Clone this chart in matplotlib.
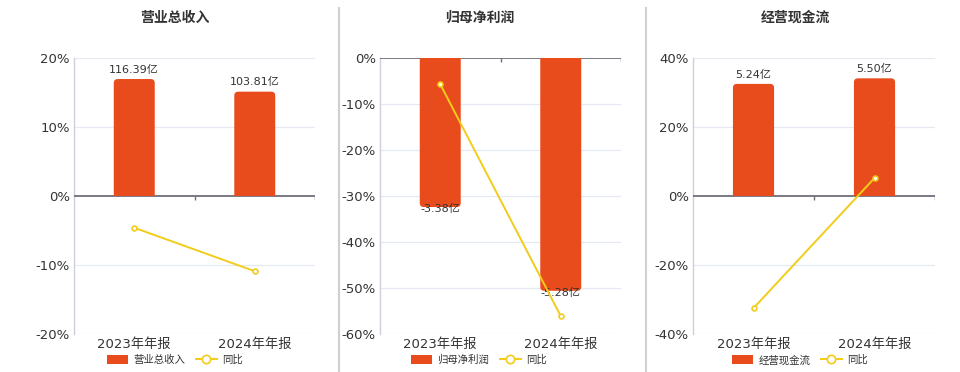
import matplotlib
matplotlib.use("Agg")
import matplotlib.pyplot as plt
from matplotlib.lines import Line2D
from matplotlib.patches import Patch, FancyBboxPatch, Rectangle

plt.rcParams['font.family'] = ['DejaVu Sans', 'Noto Sans CJK SC']

categories = ["2023年年报", "2024年年报"]
titles = ["营业总收入", "归母净利润", "经营现金流"]
bar_values = [[116.39, 103.81], [-3.38, -5.28], [5.24, 5.50]]
bar_labels = [["116.39亿", "103.81亿"], ["-3.38亿", "-5.28亿"], ["5.24亿", "5.50亿"]]
yoy_values = [[-4.6, -10.9], [-5.7, -56.1], [-32.5, 5.2]]
yticks = [[-20, -10, 0, 10, 20], [-60, -50, -40, -30, -20, -10, 0], [-40, -20, 0, 20, 40]]
bar_limits = [(-137.3, 137.3), (-6.26, 0), (-6.45, 6.45)]

BAR_COLOR = "#E84C1D"
LINE_COLOR = "#F2CC1A"
TEXT_COLOR = "#333333"

fig = plt.figure(figsize=(9.6, 3.72), dpi=100)
W, H = 960, 372
lefts = [74, 380, 693]
widths = [241, 241, 242]
top_px, bot_px = 58, 334
legend_cx = [175, 479, 800]
title_cx = [175, 480, 795]
BAR_W = 0.34
RADIUS_PX = 4

for i in range(3):
    ax = fig.add_axes([lefts[i] / W, 1 - bot_px / H, widths[i] / W, (bot_px - top_px) / H])
    yt = yticks[i]
    ax.set_ylim(yt[0], yt[-1])
    ax.set_xlim(-0.5, 1.5)
    ax.set_yticks(yt)
    ax.set_yticklabels([f"{v}%" for v in yt], fontsize=9.5, color=TEXT_COLOR)
    ax.set_xticks(range(len(categories)))
    ax.set_xticklabels(categories, fontsize=9.5, color=TEXT_COLOR)
    ax.tick_params(axis='both', length=0, pad=3)
    for s in ["top", "right", "bottom"]:
        ax.spines[s].set_visible(False)
    ax.spines["left"].set_color("#ccd0dc")
    ax.spines["left"].set_linewidth(1)
    for v in yt:
        if v != 0:
            ax.axhline(v, color="#e6e9f2", lw=0.9, zorder=0)
    span = yt[-1] - yt[0]
    ax.axhline(0, color="#6e7079", lw=1.3, zorder=3)
    tick_len = span * 4 / (bot_px - top_px)
    ax.vlines([0.5, 1.5], -tick_len, 0, color="#6e7079", lw=1, zorder=3)

    ax2 = ax.twinx()
    lo, hi = bar_limits[i]
    ax2.set_ylim(lo, hi)
    ax2.set_xlim(-0.5, 1.5)
    ax2.axis("off")
    x_per_px = 2.0 / widths[i]
    y_per_px = (hi - lo) / (bot_px - top_px)
    rad_x = RADIUS_PX * x_per_px
    aspect = y_per_px / x_per_px
    for j, v in enumerate(bar_values[i]):
        ext = RADIUS_PX * y_per_px * 1.5
        if v >= 0:
            y0, h = -ext, v + ext
            clip = Rectangle((-0.5, 0), 2.0, hi, transform=ax2.transData)
        else:
            y0, h = v, -v + ext
            clip = Rectangle((-0.5, lo), 2.0, -lo, transform=ax2.transData)
        p = FancyBboxPatch((j - BAR_W / 2, y0), BAR_W, h,
                           boxstyle=f"round,pad=0,rounding_size={rad_x}",
                           mutation_aspect=aspect, facecolor=BAR_COLOR, edgecolor="none", zorder=2)
        ax2.add_patch(p)
        p.set_clip_path(clip)
        if v >= 0:
            ax2.annotate(bar_labels[i][j], (j, v), xytext=(0, 3), textcoords="offset points",
                         ha="center", va="bottom", fontsize=8, color=TEXT_COLOR)
        else:
            ax2.annotate(bar_labels[i][j], (j, v), xytext=(0, 2), textcoords="offset points",
                         ha="center", va="top", fontsize=8, color=TEXT_COLOR)

    ax3 = ax.twinx()
    ax3.set_ylim(yt[0], yt[-1])
    ax3.axis("off")
    ax3.plot(range(len(categories)), yoy_values[i], color=LINE_COLOR, lw=1.4,
             marker="o", markersize=3.5, markerfacecolor="white", markeredgecolor=LINE_COLOR,
             markeredgewidth=1.2, zorder=4)

    fig.text(title_cx[i] / W, 1 - 18 / H, titles[i], ha="center", va="center",
             fontsize=10, fontweight="bold", color=TEXT_COLOR)

    handles = [Patch(facecolor=BAR_COLOR, edgecolor="none"),
               Line2D([0], [0], color=LINE_COLOR, lw=1.4, marker="o", markersize=6,
                      markerfacecolor="white", markeredgecolor=LINE_COLOR, markeredgewidth=1.2)]
    fig.legend(handles, [titles[i], "同比"], loc="center", bbox_to_anchor=(legend_cx[i] / W, 1 - 360 / H),
               ncol=2, frameon=False, fontsize=7.5, handlelength=2.0, handleheight=0.9,
               columnspacing=1.0, handletextpad=0.5, labelcolor=TEXT_COLOR)

for xp in [339, 646]:
    fig.add_artist(Line2D([xp / W, xp / W], [0, 1 - 8 / H], color="#d0d0d0", lw=1.5))

fig.savefig("out.png", dpi=100)
